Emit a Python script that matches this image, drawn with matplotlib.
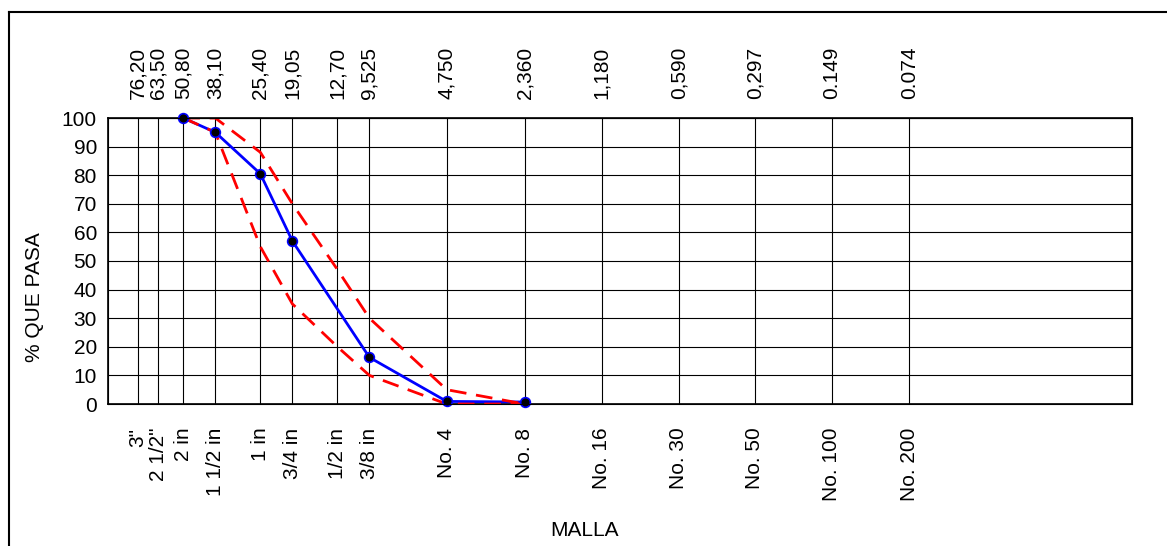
import matplotlib
matplotlib.use("Agg")
import matplotlib.pyplot as plt
from matplotlib.lines import Line2D

plt.rcParams['font.family'] = ['Liberation Sans', 'DejaVu Sans']

# tamices (mm) y nombres
tamiz_mm = [76.20, 63.50, 50.80, 38.10, 25.40, 19.05, 12.70, 9.525,
            4.750, 2.360, 1.180, 0.590, 0.297, 0.149, 0.074]
etiq_mm = ['76,20', '63,50', '50,80', '38,10', '25,40', '19,05', '12,70', '9,525',
           '4,750', '2,360', '1,180', '0,590', '0,297', '0.149', '0.074']
etiq_malla = ['3"', '2 1/2"', '2 in', '1 1/2 in', '1 in', '3/4 in', '1/2 in', '3/8 in',
              'No. 4', 'No. 8', 'No. 16', 'No. 30', 'No. 50', 'No. 100', 'No. 200']

# curva granulometrica
x_muestra = [50.80, 38.10, 25.40, 19.05, 9.525, 4.750, 2.360]
y_muestra = [100, 95, 80.5, 57, 16.3, 0.9, 0.7]

# limites (huso)
x_lim = [50.80, 38.10, 25.40, 19.05, 12.70, 9.525, 4.750, 2.360]
y_sup = [100, 100, 88, 70, 47, 30, 5, 0]
y_inf = [100, 95, 55, 35, 20, 10, 0, 0]

fig = plt.figure(figsize=(11.67, 5.46), dpi=100)
ax = fig.add_axes([108 / 1167, 1 - 404 / 546, (1132 - 108) / 1167, (404 - 118) / 546])

ax.plot(x_muestra, y_muestra, color='blue', lw=2, zorder=3)
ax.plot(x_lim, y_sup, color='red', lw=2, ls=(0, (6, 3.5)), zorder=4)
ax.plot(x_lim, y_inf, color='red', lw=2, ls=(0, (6, 3.5)), zorder=4)
ax.plot(x_muestra, y_muestra, ls='none', marker='o', ms=7, mfc='black',
        mec='blue', mew=1.2, zorder=5, clip_on=False)

ax.set_xscale('log')
ax.set_xlim(100, 0.01)
ax.set_ylim(0, 100)
ax.set_yticks(range(0, 101, 10))
ax.minorticks_off()
ax.set_xticks(tamiz_mm)
ax.set_xticklabels(etiq_malla, rotation=90, fontsize=15)
ax.tick_params(axis='x', length=0, pad=17)
ax.tick_params(axis='y', length=0, pad=8, labelsize=15)
ax.grid(True, color='black', lw=0.8)
for s in ax.spines.values():
    s.set_linewidth(1.2)

ax2 = ax.twiny()
ax2.set_xscale('log')
ax2.set_xlim(ax.get_xlim())
ax2.minorticks_off()
ax2.set_xticks(tamiz_mm)
ax2.set_xticklabels(etiq_mm, rotation=90, fontsize=15)
ax2.tick_params(axis='x', length=0, pad=14)

fig.text(35 / 1167, 1 - 297 / 546, '% QUE PASA', rotation=90, ha='center', va='center', fontsize=15)
fig.text(585 / 1167, 1 - 530 / 546, 'MALLA', ha='center', va='center', fontsize=15)

# marco exterior
fig.add_artist(Line2D([9 / 1167, 9 / 1167], [0, 1 - 12 / 546], color='black', lw=1.5))
fig.add_artist(Line2D([9 / 1167, 1], [1 - 12 / 546, 1 - 12 / 546], color='black', lw=1.5))

fig.savefig('out.png', dpi=100)
